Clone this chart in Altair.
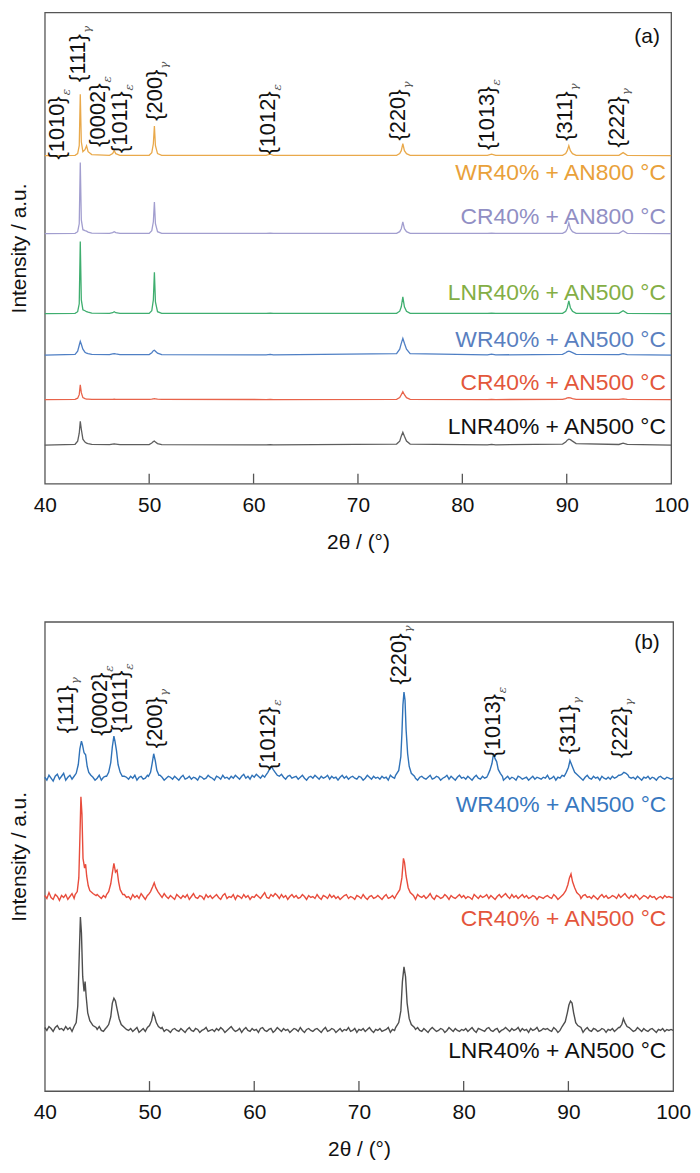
import altair as alt
import pandas as pd

FONT = "Liberation Sans"
X_DOMAIN = [40, 100]
TICK_VALUES = [40, 50, 60, 70, 80, 90, 100]
INNER_TICKS = [50, 60, 70, 80, 90]

# ---------------- panel (a) ----------------
top_x = [40, 42.9, 43.15, 43.3, 43.4, 43.5, 43.65, 43.85, 44.0, 44.15, 44.5,
         46.2, 46.5, 46.65, 46.8, 47.2, 50.0, 50.25, 50.4, 50.5, 50.6, 50.8, 51.2,
         61.2, 61.6, 61.9, 73.7, 74.0, 74.15, 74.3, 74.45, 74.65, 75.0,
         82.4, 82.8, 83.2, 89.6, 89.9, 90.05, 90.2, 90.35, 90.55, 90.9,
         95.0, 95.4, 95.8, 100]

top_ids = ["or", "pu", "gr", "bl", "rd", "bk"]
top_names = ["WR40% + AN800 °C", "CR40% + AN800 °C", "LNR40% + AN500 °C",
             "WR40% + AN500 °C", "CR40% + AN500 °C", "LNR40% + AN500 °C"]
top_offsets = [332, 253, 172, 130, 85, 39]
top_label_y = [314, 270, 193, 145, 102, 57]
top_line_colors = ["#E9A94B", "#A29ECF", "#3FAE6F", "#4F7FC4", "#E8634A", "#5E5E5E"]
top_text_colors = ["#E9A13A", "#918FC4", "#84AE45", "#5A7FC0", "#E3573B", "#111111"]

top_or = [0, 0.3, 2, 10, 62, 14, 4, 6, 10, 4, 1, 0.3, 2, 5, 2, 0.3, 0.3, 3, 12, 30, 10, 2, 0.3,
          0.2, 1.5, 0.2, 0.3, 2, 5, 12, 5, 2, 0.3, 0.2, 1.5, 0.2, 0.3, 2, 5, 10, 5, 2, 0.3,
          0.3, 3, 0.3, 0]
top_pu = [0, 0.3, 2, 10, 72, 14, 4, 3, 2.5, 1.5, 0.5, 0.3, 1, 2, 1, 0.3, 0.3, 3, 12, 32, 10, 2, 0.3,
          0.2, 0.5, 0.2, 0.3, 2, 5, 12, 5, 2, 0.3, 0.2, 0.5, 0.2, 0.3, 2, 5, 11, 5, 2, 0.3,
          0.3, 3, 0.3, 0]
top_gr = [0, 0.3, 2, 10, 73, 14, 4, 3, 2, 1.5, 0.5, 0.3, 1, 2, 1, 0.3, 0.3, 3, 14, 42, 12, 2, 0.3,
          0.2, 0.5, 0.2, 0.3, 2.5, 7, 17, 7, 2.5, 0.3, 0.2, 0.5, 0.2, 0.3, 2.5, 6, 13, 6, 2.5, 0.3,
          0.3, 3, 0.3, 0]
top_bl = [0, 0.8, 4, 10, 14, 11, 6, 3, 2, 1.5, 0.8, 0.5, 1.2, 1.5, 1.2, 0.5, 0.6, 2.5, 4.5, 5, 4, 2, 0.5,
          0.3, 0.8, 0.3, 1.5, 6, 12, 17, 12, 6, 1.5, 0.3, 1, 0.3, 0.8, 2.5, 3.5, 4, 3.5, 2.5, 0.8,
          0.5, 1.5, 0.5, 0]
top_rd = [0, 0.3, 1.5, 5, 15, 7, 2, 1, 0.6, 0.5, 0.3, 0.2, 0.3, 0.5, 0.3, 0.2, 0.2, 0.4, 0.8, 1, 0.8, 0.4, 0.2,
          0.1, 0.3, 0.1, 0.3, 2, 5, 8, 5, 2, 0.3, 0.1, 0.3, 0.1, 0.3, 1, 1.8, 2, 1.8, 1, 0.3,
          0.2, 0.8, 0.2, 0]
top_bk = [0, 0.8, 4, 12, 24, 16, 6, 3, 2, 1.5, 0.8, 0.4, 1, 1.2, 1, 0.4, 0.5, 2, 3.5, 4, 3, 1.5, 0.4,
          0.2, 0.5, 0.2, 1, 4, 9, 13, 9, 4, 1, 0.2, 0.6, 0.2, 1, 3, 5, 6, 5.5, 4, 1.5,
          0.6, 2, 0.6, 0]
top_series = [top_or, top_pu, top_gr, top_bl, top_rd, top_bk]

top_peak_text = ["{1010}", "{111}", "{0002}", "{1011}", "{200}", "{1012}", "{220}", "{1013}", "{311}", "{222}"]
top_sub_text = ["ε", "γ", "ε", "ε", "γ", "ε", "γ", "ε", "γ", "γ"]
top_peak_x = [41.2, 43.15, 45.1, 47.25, 50.6, 61.4, 73.8, 82.4, 89.8, 94.8]
top_peak_top = [392, 455, 405, 397, 419, 397, 399, 402, 397, 392]

# ---------------- panel (b) ----------------
grid_x = [round(40 + 0.2 * i, 2) for i in range(301)]

bot_ids = ["bl", "rd", "bk"]
bot_names = ["WR40% + AN500 °C", "CR40% + AN500 °C", "LNR40% + AN500 °C"]
bot_offsets = [320, 198, 62]
bot_label_y = [293, 176, 41]
bot_line_colors = ["#2F72B8", "#E84C3C", "#4E4E4E"]
bot_text_colors = ["#3878C0", "#E4553C", "#111111"]

noise_bl = [
    1, -2, 3, 0, -3, 2, 4, -1, 2, 5, -2, 1, 3, -1, 0, 2, -3, 1, 4, 0, 2, -1, 3, 1, -2, 0, 3, -2, 1, 2,
    0, -3, 2, 1, -1, 3, 0, -2, 2, 1, -1, 2, 0, 3, -2, 1, 2, -1, 0, 3, -2, 1, 0, 2, -1, 3, 1, -2, 0, 2,
    1, -1, 2, 0, -2, 1, 3, -1, 0, 2, -1, 1, 0, -2, 2, 1, -1, 0, 3, 1, 0, -2, 2, 1, -1, 3, 0, 1, -1, 2,
    0, 3, 1, -1, 2, 4, 0, 2, -1, 3, 1, 4, 2, 0, 3, 1, -1, 2, 4, 1, 3, 0, 2, 4, 1, -1, 2, 3, 0, 1,
    2, -1, 1, 3, 0, -2, 1, 2, 0, 3, 1, -1, 2, 0, 1, 3, -1, 2, 0, 1, -2, 1, 3, 0, 2, -1, 1, 2, 0, -1,
    2, 1, -2, 0, 3, 1, -1, 2, 0, 1, -1, 2, 0, 1, -2, 3, 1, 0, -1, 2, 1, -2, 0, 2, 1, -1, 3, 0, -2, 1,
    2, 0, -1, 1, 3, -1, 0, 2, 1, -2, 0, 1, 3, -1, 2, 0, -2, 1, 3, 0, 1, -1, 2, 0, -2, 1, 3, 0, -1, 2,
    0, 1, -2, 2, 1, -1, 0, 3, 1, -2, 0, 2, -1, 1, 0, -2, 2, 1, -1, 0, 1, -2, 0, 2, -1, 1, 0, -1, 1, 0,
    3, -1, 0, 2, -2, 1, 0, 3, -1, 1, 2, -2, 0, 1, -1, 2, 0, -2, 1, 3, 0, -1, 2, 0, 1, -2, 2, 0, -1, 1,
    -1, 2, 0, 1, 3, -1, 0, 2, -2, 1, 0, 1, -1, 2, 0, -2, 1, 0, 2, -1, 1, 0, -2, 1, 2, 0, -1, 1, 0, -1,
    0]
noise_rd = [
    2, -1, 5, 0, -2, 3, 1, -3, 2, 0, 3, -2, 1, 4, -1, 2, 0, -3, 3, 1, -1, 2, 4, 0, -2, 3, 1, -1, 2, 0,
    3, -2, 0, 2, -1, 4, 1, -2, 3, 0, 1, -2, 3, 0, 2, -1, 4, 1, -2, 2, 0, 3, -1, 1, 2, -3, 0, 4, 1, -1,
    2, 0, -2, 3, 1, -1, 2, 0, 3, -2, 1, 4, 0, -1, 2, 1, -2, 3, 0, 2, -1, 1, 3, 0, -2, 2, 4, -1, 1, 0,
    3, -2, 2, 1, -1, 3, 0, 2, -2, 1, 0, 3, 1, -1, 2, 5, 0, -1, 3, 1, 4, 2, -1, 3, 0, 2, -2, 1, 3, 0,
    2, -1, 0, 3, 1, -2, 2, 0, 1, -1, 3, 0, -2, 2, 1, -1, 3, 0, 2, -1, 1, -2, 0, 2, 3, -1, 1, 0, -2, 2,
    1, -1, 3, 0, -2, 1, 2, -1, 0, 2, 0, -2, 1, 3, -1, 0, 2, -1, 1, 3, -2, 0, 2, 1, -1, 2, 0, -2, 3, 1,
    0, 2, -1, 1, 4, 0, -2, 2, 1, -1, 0, 3, 1, -2, 2, 0, -1, 1, 3, 0, 2, -1, 1, 0, -2, 3, 1, -1, 2, 0,
    1, 3, -1, 2, 0, -2, 1, 3, 0, 2, 4, 1, -1, 3, 0, 2, -1, 1, 3, 0, 2, -1, 0, 2, 1, -2, 1, 0, -1, 1,
    2, 0, -1, 3, 1, -2, 0, 2, 1, -1, 3, 0, 2, -2, 1, 0, -1, 2, 3, 0, 1, -1, 2, 0, -2, 1, 3, 0, 2, -1,
    0, 2, 1, -1, 3, 0, 2, 4, 1, -1, 2, 0, 3, 1, -2, 0, 2, 1, -1, 2, 0, 1, -2, 0, 1, -1, 2, 0, 1, 0,
    0]
noise_bk = [
    3, 0, 4, 2, -1, 3, 5, 1, 2, 0, 4, 1, 3, -1, 2, 0, 3, -2, 1, 2, -1, 3, 0, 2, -2, 1, 4, 0, -1, 2,
    1, -2, 3, 0, 1, -1, 2, 0, -2, 1, 0, 2, -1, 1, 3, -2, 0, 2, -1, 1, 0, -2, 2, 1, -1, 0, 3, -1, 1, 0,
    -2, 1, 2, 0, -1, 2, 0, -2, 1, 3, 0, -1, 2, 1, -2, 0, 1, 3, -1, 0, 1, -1, 2, 0, 3, 1, -2, 0, 2, 4,
    1, -1, 0, 2, -2, 1, 3, 0, -1, 2, 0, 1, -2, 2, 3, 0, -1, 1, 2, -2, 0, 3, 1, -1, 2, 0, 1, -2, 0, 2,
    1, -1, 3, 0, -2, 1, 2, 0, -1, 1, 2, 0, -2, 1, 3, -1, 0, 2, 1, -2, 0, 2, -1, 1, 0, 3, -1, 0, 2, -2,
    1, 0, 2, -1, 1, 3, 0, -2, 1, 0, 2, -1, 0, 1, 3, -2, 1, 0, 2, -1, 0, 3, 1, -2, 0, 2, -1, 1, 3, 0,
    -1, 2, 0, -2, 1, 3, 1, -1, 0, 2, 1, -2, 0, 3, 1, -1, 2, 0, -1, 1, 0, 2, -1, 1, 3, 0, -2, 2, 1, 0,
    -1, 2, 3, 0, -1, 1, 2, -2, 0, 1, 3, 1, -1, 2, 0, 1, 3, -1, 2, 0, 1, -2, 2, 0, 1, 3, -1, 0, 2, 1,
    2, 0, -1, 3, 1, -2, 0, 2, 1, -1, 0, 3, 2, -1, 1, 0, 2, -2, 1, 3, 0, -1, 2, 1, -1, 0, 2, 1, -2, 1,
    0, 2, -1, 1, 3, 0, 1, -2, 0, 2, 1, -1, 0, 3, 1, -1, 2, 0, -1, 1, 2, 0, -2, 1, 0, 2, -1, 1, 0, 1,
    0]

peaks_bl = [
    ([42.8, 43.0, 43.2, 43.35, 43.5, 43.6, 43.75, 43.9, 44.05, 44.2, 44.4, 44.6], [2, 5, 14, 30, 38, 34, 26, 24, 12, 6, 3, 1]),
    ([45.9, 46.1, 46.3, 46.45, 46.6, 46.7, 46.85, 47.0, 47.2, 47.4], [2, 6, 16, 32, 43, 38, 28, 14, 6, 2]),
    ([49.9, 50.1, 50.25, 50.4, 50.55, 50.7, 50.9], [2, 6, 15, 25, 18, 8, 3]),
    ([61.1, 61.3, 61.5, 61.65, 61.8, 62.0, 62.2], [3, 6, 10, 12, 9, 6, 3]),
    ([73.5, 73.8, 74.0, 74.1, 74.2, 74.3, 74.4, 74.5, 74.65, 74.8, 75.0, 75.3], [3, 8, 22, 45, 75, 88, 80, 50, 25, 12, 5, 2]),
    ([82.3, 82.5, 82.7, 82.85, 83.0, 83.15, 83.3, 83.5, 83.7], [3, 8, 15, 25, 20, 17, 9, 5, 2]),
    ([89.6, 89.8, 90.0, 90.15, 90.3, 90.45, 90.6, 90.8, 91.0], [2, 6, 11, 18, 14, 10, 6, 4, 2]),
    ([94.9, 95.1, 95.3, 95.5, 95.7], [3, 4, 6, 5, 3]),
]
peaks_rd = [
    ([42.9, 43.1, 43.25, 43.35, 43.45, 43.55, 43.65, 43.8, 43.9, 44.0, 44.15, 44.3, 44.6, 44.9], [3, 6, 20, 60, 103, 85, 40, 30, 34, 22, 12, 7, 4, 2]),
    ([45.9, 46.1, 46.3, 46.45, 46.6, 46.75, 46.9, 47.05, 47.2, 47.45], [3, 6, 14, 25, 35, 26, 28, 16, 8, 3]),
    ([49.9, 50.1, 50.3, 50.45, 50.6, 50.8, 51.0], [3, 6, 11, 15, 10, 6, 3]),
    ([73.6, 73.9, 74.1, 74.25, 74.35, 74.5, 74.7, 74.9, 75.2], [3, 8, 20, 40, 36, 22, 10, 5, 2]),
    ([89.5, 89.75, 89.95, 90.1, 90.25, 90.4, 90.6, 90.8, 91.1], [3, 7, 13, 20, 24, 16, 10, 5, 2]),
]
peaks_bk = [
    ([42.8, 43.0, 43.15, 43.3, 43.4, 43.5, 43.62, 43.75, 43.85, 43.95, 44.1, 44.3, 44.6, 44.9], [4, 8, 25, 80, 116, 100, 55, 40, 50, 35, 18, 10, 5, 3]),
    ([45.9, 46.1, 46.3, 46.45, 46.6, 46.75, 46.9, 47.1, 47.3, 47.6], [3, 6, 14, 28, 33, 30, 22, 12, 6, 3]),
    ([49.8, 50.0, 50.2, 50.35, 50.5, 50.65, 50.85, 51.1], [3, 5, 10, 18, 14, 8, 4, 2]),
    ([73.5, 73.8, 74.0, 74.15, 74.3, 74.45, 74.6, 74.8, 75.0, 75.3], [3, 8, 20, 50, 65, 55, 28, 12, 6, 3]),
    ([89.4, 89.7, 89.9, 90.05, 90.2, 90.35, 90.5, 90.7, 90.9, 91.2], [4, 9, 18, 26, 30, 28, 18, 8, 5, 3]),
    ([94.9, 95.1, 95.25, 95.4, 95.6, 95.8], [3, 6, 12, 8, 4, 3]),
]
bot_noise = [noise_bl, noise_rd, noise_bk]
bot_peaks = [peaks_bl, peaks_rd, peaks_bk]

bot_peak_text = ["{111}", "{0002}", "{1011}", "{200}", "{1012}", "{220}", "{1013}", "{311}", "{222}"]
bot_sub_text = ["γ", "ε", "ε", "γ", "ε", "γ", "ε", "γ", "γ"]
bot_peak_x = [42.0, 45.3, 47.2, 50.5, 61.35, 73.8, 82.8, 90.0, 94.9]
bot_peak_top = [415, 428, 430, 403, 393, 468, 406, 395, 393]

# ---------------- data frames ----------------
top_rows = []
for sid, col, base, vals in zip(top_ids, top_line_colors, top_offsets, top_series):
    for x, v in zip(top_x, vals):
        top_rows.append({"id": sid, "col": col, "x": x, "y": base + v})
top_df = pd.DataFrame(top_rows)

bot_rows = []
for sid, col, base, noise, peaks in zip(bot_ids, bot_line_colors, bot_offsets, bot_noise, bot_peaks):
    pts = []
    for x, n in zip(grid_x, noise):
        if any(xs[0] <= x <= xs[-1] for xs, _ in peaks):
            continue
        pts.append((x, base + n))
    for xs, ys in peaks:
        pts += [(x, base + y) for x, y in zip(xs, ys)]
    for x, y in sorted(pts):
        bot_rows.append({"id": sid, "col": col, "x": x, "y": y})
bot_df = pd.DataFrame(bot_rows)


def panel(line_df, names, label_y, text_colors, label_x, pk_text, sb_text, pk_x, pk_top,
          letter, letter_x, letter_y, width, height, ymax, lw):
    xs = alt.X("x:Q", scale=alt.Scale(domain=X_DOMAIN, nice=False, zero=False),
               axis=alt.Axis(values=TICK_VALUES, ticks=False, domain=False, grid=False,
                             labelFlush=False, labelPadding=11, format="d",
                             title="2θ / (°)", titlePadding=16))
    ys = alt.Y("y:Q", scale=alt.Scale(domain=[0, ymax], nice=False, zero=False),
               axis=alt.Axis(labels=False, ticks=False, domain=False, grid=False,
                             title="Intensity / a.u.", titlePadding=15))
    lines = alt.Chart(line_df).mark_line(strokeWidth=lw).encode(
        x=xs, y=ys, color=alt.Color("col:N", scale=None), detail="id:N")
    lab_df = pd.DataFrame({"x": [label_x] * len(names), "y": label_y, "t": names, "c": text_colors})
    labels = alt.Chart(lab_df).mark_text(align="right", baseline="middle", font=FONT, fontSize=23).encode(
        x=xs, y=ys, text="t:N", color=alt.Color("c:N", scale=None))
    pk_df = pd.DataFrame({"x": pk_x, "y": pk_top, "t": pk_text, "s": sb_text})
    peaks = alt.Chart(pk_df).mark_text(angle=270, align="right", baseline="middle", font=FONT,
                                       fontSize=22, color="#111").encode(x=xs, y=ys, text="t:N")
    subs = alt.Chart(pk_df).mark_text(angle=270, align="left", baseline="middle", font="DejaVu Serif",
                                      fontSize=12, fontStyle="italic", color="#555",
                                      dx=1, dy=9).encode(x=xs, y=ys, text="s:N")
    let_df = pd.DataFrame({"x": [letter_x], "y": [letter_y], "t": [letter]})
    let = alt.Chart(let_df).mark_text(align="center", baseline="middle", font=FONT, fontSize=21,
                                      color="#111").encode(x=xs, y=ys, text="t:N")
    tk_df = pd.DataFrame({"x": INNER_TICKS})
    ticks = alt.Chart(tk_df).mark_rule(color="#555", strokeWidth=1.3).encode(
        x=xs, y=alt.value(height - 10), y2=alt.value(height))
    return alt.layer(lines, labels, peaks, subs, let, ticks).properties(width=width, height=height)


top = panel(top_df, top_names, top_label_y, top_text_colors, 99.5,
            top_peak_text, top_sub_text, top_peak_x, top_peak_top,
            "(a)", 97.7, 452, 630, 474, 477, 1.3)
bottom = panel(bot_df, bot_names, bot_label_y, bot_text_colors, 99.35,
               bot_peak_text, bot_sub_text, bot_peak_x, bot_peak_top,
               "(b)", 97.5, 458, 632, 472, 480, 1.4)

chart = alt.vconcat(top, bottom, spacing=68).properties(
    padding={"left": 0, "top": 0, "right": 0, "bottom": 0}
).configure_view(stroke="#555", strokeWidth=1.3).configure_axis(
    labelFont=FONT, titleFont=FONT, labelFontSize=21, titleFontSize=21,
    titleFontWeight="normal", labelColor="#111", titleColor="#111"
)

chart.save("out.html", embed_options={"renderer": "svg", "actions": False})
